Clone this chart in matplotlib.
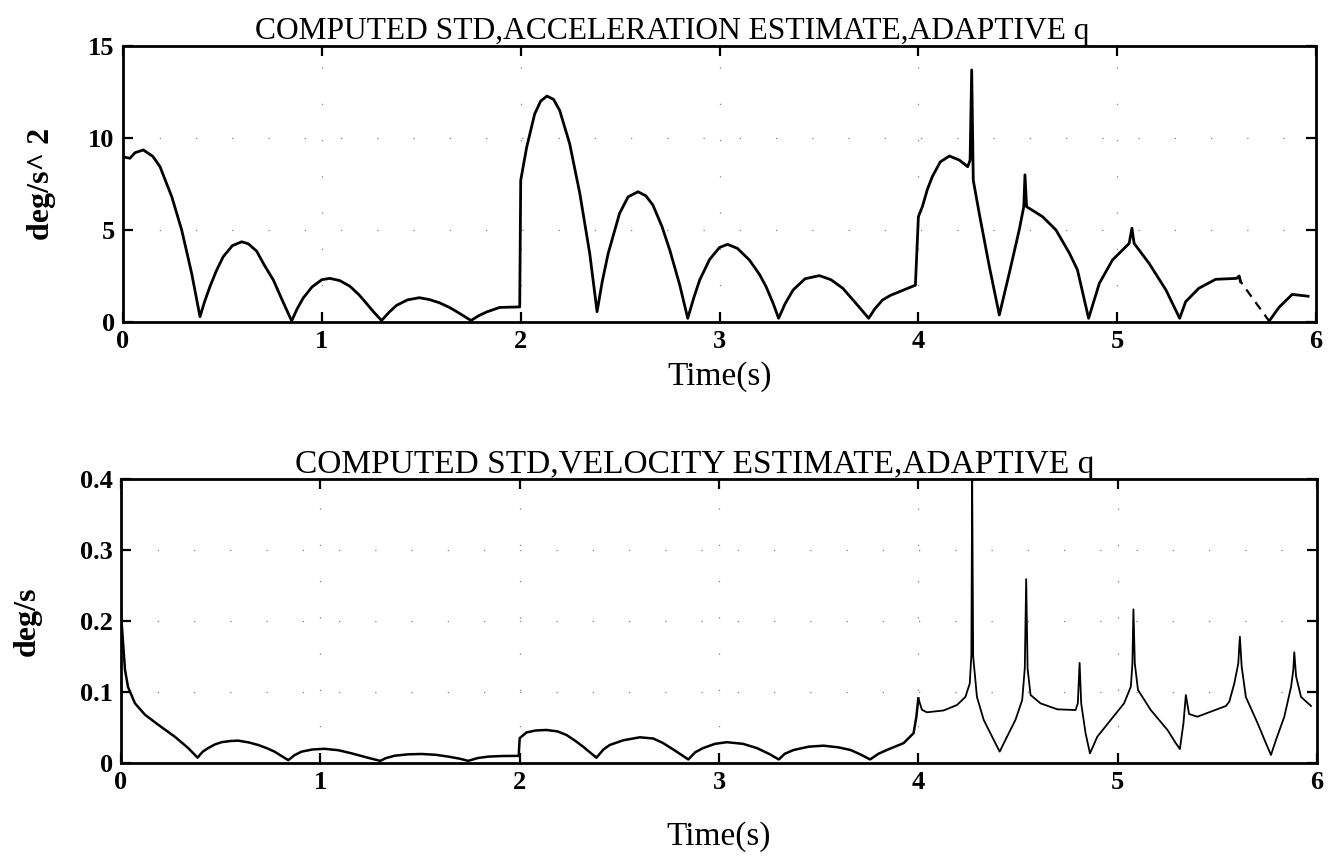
import matplotlib
matplotlib.use("Agg")
import matplotlib.pyplot as plt
import numpy as np

# ---------------- data ----------------
acc_t = [0.0, 0.01, 0.035, 0.06, 0.102, 0.15, 0.186, 0.245, 0.295, 0.345, 0.387,
         0.41, 0.437, 0.47, 0.504, 0.55, 0.597, 0.63, 0.672, 0.71, 0.756, 0.80, 0.848,
         0.875, 0.906, 0.95, 1.0, 1.04, 1.09, 1.14, 1.185, 1.225, 1.26, 1.30,
         1.34, 1.375, 1.43, 1.49, 1.54, 1.59, 1.64, 1.68, 1.75,
         1.79, 1.83, 1.894, 1.98, 1.995,
         2.0, 2.03, 2.07, 2.10, 2.132, 2.165, 2.196, 2.246, 2.297, 2.347, 2.384,
         2.41, 2.44, 2.497, 2.54, 2.59, 2.63, 2.665, 2.71, 2.75, 2.80, 2.84,
         2.87, 2.90, 2.95, 3.0, 3.04, 3.09, 3.15, 3.20, 3.234, 3.27, 3.297,
         3.33, 3.37, 3.43, 3.502, 3.56, 3.62, 3.687, 3.75,
         3.78, 3.82, 3.86, 3.905, 3.985,
         4.0, 4.02, 4.045, 4.07, 4.11, 4.156, 4.206, 4.248, 4.26, 4.268, 4.276,
         4.306, 4.357, 4.407, 4.457, 4.507, 4.53, 4.536, 4.544, 4.625, 4.692, 4.76,
         4.80, 4.856, 4.91, 4.976, 5.06, 5.074, 5.085, 5.16, 5.245, 5.314, 5.344,
         5.41, 5.495, 5.60, 5.613, 5.62, 5.764, 5.814, 5.88, 5.96]
acc_v = [9.0, 8.95, 8.9, 9.2, 9.35, 9.0, 8.44, 6.81, 5.0, 2.65, 0.29,
         1.1, 1.92, 2.8, 3.55, 4.15, 4.36, 4.25, 3.85, 3.1, 2.28, 1.2, 0.06,
         0.7, 1.3, 1.9, 2.3, 2.37, 2.25, 1.95, 1.5, 1.0, 0.55, 0.08,
         0.55, 0.9, 1.2, 1.32, 1.22, 1.05, 0.8, 0.55, 0.08,
         0.35, 0.55, 0.79, 0.82, 0.82,
         7.7, 9.5, 11.3, 12.0, 12.28, 12.1, 11.5, 9.7, 7.0, 3.73, 0.56,
         2.2, 3.73, 5.9, 6.8, 7.08, 6.85, 6.35, 5.2, 3.9, 2.0, 0.2,
         1.3, 2.28, 3.4, 4.05, 4.22, 4.0, 3.37, 2.6, 1.92, 1.0, 0.2,
         1.0, 1.74, 2.35, 2.52, 2.3, 1.83, 1.0, 0.2,
         0.7, 1.2, 1.45, 1.65, 2.0,
         5.72, 6.27, 7.2, 7.9, 8.7, 9.02, 8.8, 8.44, 8.8, 13.7, 7.7,
         5.9, 3.0, 0.38, 2.65, 5.0, 6.27, 8.0, 6.27, 5.72, 5.0, 3.73,
         2.83, 0.2, 2.1, 3.37, 4.27, 5.1, 4.27, 3.19, 1.74, 0.2, 1.1,
         1.83, 2.32, 2.37, 2.5, 2.2, 0.05, 0.8, 1.5, 1.4]

vel_t = [0.0, 0.01, 0.02, 0.035, 0.07, 0.12, 0.186, 0.27, 0.337, 0.384,
         0.41, 0.437, 0.47, 0.504, 0.55, 0.588, 0.64, 0.688, 0.73, 0.77, 0.81, 0.839,
         0.87, 0.906, 0.96, 1.02, 1.09, 1.157, 1.23, 1.30,
         1.33, 1.374, 1.44, 1.508, 1.58, 1.642, 1.70, 1.742,
         1.79, 1.843, 1.91, 1.977, 1.995,
         2.0, 2.034, 2.08, 2.134, 2.19, 2.235, 2.28, 2.318, 2.385,
         2.42, 2.452, 2.52, 2.603, 2.67, 2.72, 2.787, 2.846,
         2.88, 2.92, 2.98, 3.039, 3.12, 3.19, 3.25, 3.30,
         3.33, 3.374, 3.45, 3.525, 3.60, 3.66, 3.71, 3.758,
         3.80, 3.842, 3.926, 3.976, 3.99, 4.0, 4.018, 4.043, 4.127, 4.194,
         4.236, 4.258, 4.266, 4.27, 4.275, 4.294, 4.328, 4.37, 4.408, 4.445, 4.487,
         4.521, 4.534, 4.541, 4.548, 4.563, 4.613, 4.697, 4.789, 4.8, 4.809, 4.817,
         4.839, 4.861, 4.898, 4.965, 5.032, 5.066, 5.074, 5.079, 5.086, 5.102,
         5.166, 5.25, 5.292, 5.312, 5.33, 5.342, 5.358, 5.40, 5.467, 5.543, 5.56,
         5.585, 5.605, 5.613, 5.622, 5.643, 5.702, 5.744, 5.769, 5.794, 5.836,
         5.87, 5.881, 5.886, 5.895, 5.92, 5.97]
vel_v = [0.21, 0.17, 0.131, 0.107, 0.084, 0.068, 0.054, 0.037, 0.021, 0.0075,
         0.016, 0.021, 0.026, 0.0293, 0.031, 0.0315, 0.029, 0.0254, 0.021, 0.016, 0.009, 0.004,
         0.011, 0.016, 0.019, 0.02, 0.018, 0.0136, 0.008, 0.003,
         0.007, 0.0103, 0.0122, 0.0127, 0.0115, 0.009, 0.006, 0.003,
         0.007, 0.009, 0.0098, 0.01, 0.01,
         0.035, 0.043, 0.0458, 0.0465, 0.0445, 0.0394, 0.031, 0.023, 0.0075,
         0.019, 0.0254, 0.032, 0.0362, 0.0345, 0.028, 0.016, 0.005,
         0.015, 0.021, 0.027, 0.0293, 0.027, 0.021, 0.013, 0.005,
         0.013, 0.0183, 0.023, 0.0244, 0.022, 0.0183, 0.012, 0.005,
         0.013, 0.0183, 0.028, 0.042, 0.065, 0.091, 0.075, 0.0714, 0.074, 0.0817,
         0.093, 0.112, 0.152, 0.40, 0.15, 0.093, 0.0606, 0.0371, 0.016, 0.0371, 0.0606,
         0.0887, 0.1333, 0.259, 0.133, 0.0958, 0.084, 0.0756, 0.0746, 0.084, 0.141, 0.084,
         0.0418, 0.0136, 0.0371, 0.0606, 0.084, 0.1075, 0.1404, 0.2164, 0.14, 0.1028,
         0.0746, 0.0465, 0.0277, 0.0197, 0.056, 0.0958, 0.069, 0.0652, 0.0723, 0.0803, 0.0864,
         0.112, 0.14, 0.1779, 0.136, 0.093, 0.056, 0.0277, 0.0113, 0.0324, 0.0652,
         0.1075, 0.131, 0.156, 0.122, 0.093, 0.0803]

x_ticks = [0, 1, 2, 3, 4, 5, 6]
acc_yticks = [0, 5, 10, 15]
vel_yticks = [0, 0.1, 0.2, 0.3, 0.4]
vel_yticklabels = ["0", "0.1", "0.2", "0.3", "0.4"]

title_acc = "COMPUTED STD,ACCELERATION ESTIMATE,ADAPTIVE q"
title_vel = "COMPUTED STD,VELOCITY ESTIMATE,ADAPTIVE q"

# ---------------- figure ----------------
plt.rcParams['font.family'] = ['Liberation Serif', 'DejaVu Serif']
fig = plt.figure(figsize=(13.33, 8.6), dpi=100)

ax1 = fig.add_axes([0.0923, 0.6256, 0.895, 0.3209])
ax2 = fig.add_axes([0.0908, 0.1128, 0.8972, 0.3302])


def style(ax):
    for s in ax.spines.values():
        s.set_linewidth(2.0)
    ax.tick_params(direction='in', length=7, width=1.6, top=True, right=True,
                   labelsize=19, pad=6)
    for lab in ax.get_xticklabels() + ax.get_yticklabels():
        lab.set_fontweight('bold')
    ax.grid(True, color='0.5', linestyle=(0, (1, 28)), linewidth=0.9)


# top: acceleration
at = np.array(acc_t)
av = np.array(acc_v)
solid_a = (at <= 5.62)
dash_a = (at >= 5.613) & (at <= 5.764)
tail_a = (at >= 5.764)
ax1.plot(at[solid_a], av[solid_a], color='black', lw=2.0, solid_joinstyle='round')
ax1.plot(at[dash_a], av[dash_a], color='black', lw=1.6, linestyle=(0, (4, 3)))
ax1.plot(at[tail_a], av[tail_a], color='black', lw=2.0)
ax1.set_xlim(0, 6)
ax1.set_ylim(0, 15)
ax1.set_xticks(x_ticks)
ax1.set_yticks(acc_yticks)
style(ax1)
ax1.set_xlabel("Time(s)", fontsize=24, labelpad=6)
ax1.set_ylabel("deg/s^ 2", fontsize=23, fontweight='bold')
ax1.yaxis.set_label_coords(-0.056, 0.5)
ax1.set_title(title_acc, fontsize=22.7, x=0.46, pad=5)

# bottom: velocity
vt = np.array(vel_t)
vv = np.array(vel_v)
m1 = vt <= 4.0
m2 = vt >= 4.0
ax2.plot(vt[m1], vv[m1], color='black', lw=1.8, solid_joinstyle='round')
ax2.plot(vt[m2], vv[m2], color='black', lw=1.3)
ax2.set_xlim(0, 6)
ax2.set_ylim(0, 0.4)
ax2.set_xticks(x_ticks)
ax2.set_yticks(vel_yticks)
ax2.set_yticklabels(vel_yticklabels)
style(ax2)
ax2.set_xlabel("Time(s)", fontsize=24, labelpad=19)
ax2.set_ylabel("deg/s", fontsize=23, fontweight='bold')
ax2.yaxis.set_label_coords(-0.066, 0.5)
ax2.set_title(title_vel, fontsize=24, x=0.48, pad=4)

fig.savefig("out.png", dpi=100)
